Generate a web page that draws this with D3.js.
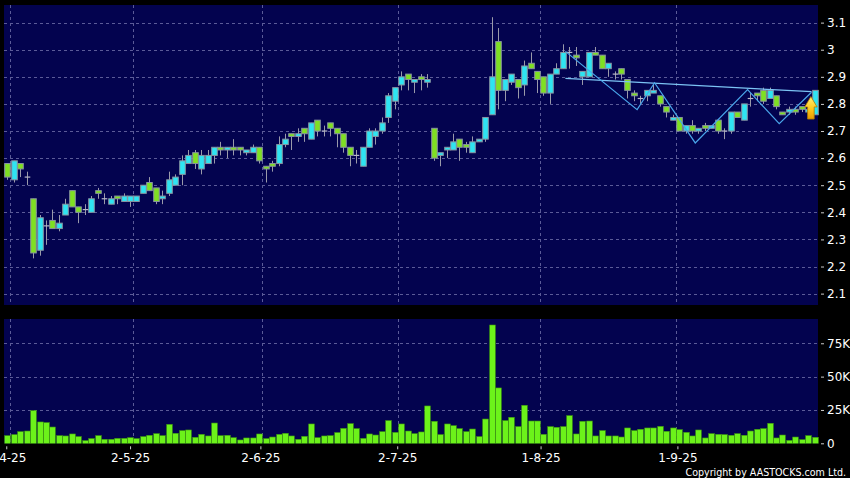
<!DOCTYPE html>
<html><head><meta charset="utf-8">
<script src="https://cdn.jsdelivr.net/npm/d3@7"></script>
<style>
html,body{margin:0;padding:0;background:#000;}
svg{display:block;}
</style></head><body>
<svg id="chart" width="850" height="478"></svg>
<script>
// ---- data (index 0 = 31-3-25 ... 125 = 30-9-25) ----
const openP  = [2.58,2.52,2.58,2.53,2.45,2.26,2.35,2.37,2.34,2.39,2.48,2.42,2.41,2.40,2.48,2.45,2.43,2.46,2.44,2.44,
2.44,2.47,2.51,2.49,2.45,2.47,2.50,2.54,2.58,2.62,2.56,2.58,2.61,2.64,2.63,2.64,2.64,2.62,2.62,2.64,
2.57,2.58,2.58,2.65,2.69,2.68,2.71,2.67,2.74,2.70,2.73,2.71,2.69,2.64,2.61,2.57,2.64,2.68,2.70,2.75,
2.81,2.87,2.91,2.88,2.90,2.88,2.71,2.61,2.63,2.63,2.67,2.65,2.62,2.66,2.67,2.76,3.03,2.85,2.88,2.89,
2.87,2.95,2.92,2.90,2.84,2.91,2.93,2.99,2.98,2.90,2.90,2.99,2.98,2.93,2.91,2.93,2.89,2.84,2.82,2.83,
2.84,2.83,2.79,2.74,2.75,2.70,2.72,2.70,2.72,2.71,2.74,2.70,2.70,2.77,2.74,2.82,2.84,2.85,2.82,2.83,
2.77,2.77,2.78,2.79,2.77,2.76];
const highP  = [2.58,2.59,2.58,2.55,2.45,2.39,2.37,2.41,2.39,2.45,2.48,2.42,2.43,2.46,2.49,2.47,2.46,2.46,2.47,2.46,
2.46,2.50,2.53,2.49,2.48,2.55,2.54,2.61,2.63,2.63,2.63,2.63,2.64,2.66,2.64,2.67,2.64,2.63,2.65,2.64,
2.57,2.59,2.68,2.69,2.69,2.71,2.71,2.73,2.74,2.72,2.73,2.71,2.69,2.64,2.63,2.64,2.71,2.71,2.75,2.84,
2.86,2.92,2.91,2.89,2.91,2.91,2.71,2.62,2.64,2.69,2.67,2.66,2.68,2.67,2.75,3.12,3.08,2.89,2.91,2.89,
2.96,2.99,2.92,2.90,2.91,2.95,3.02,3.01,3.01,2.92,2.99,3.01,2.98,2.95,2.92,2.93,2.89,2.85,2.83,2.85,
2.87,2.83,2.79,2.76,2.75,2.72,2.74,2.71,2.73,2.72,2.74,2.71,2.77,2.77,2.80,2.84,2.84,2.86,2.86,2.83,
2.77,2.79,2.79,2.79,2.79,2.85];
const lowP   = [2.52,2.51,2.53,2.50,2.23,2.24,2.28,2.34,2.33,2.39,2.42,2.36,2.39,2.40,2.45,2.43,2.43,2.43,2.44,2.42,
2.44,2.47,2.48,2.43,2.43,2.46,2.50,2.50,2.58,2.56,2.54,2.58,2.58,2.61,2.60,2.61,2.61,2.61,2.62,2.58,
2.51,2.55,2.57,2.64,2.63,2.66,2.66,2.67,2.68,2.68,2.68,2.64,2.62,2.57,2.58,2.57,2.64,2.65,2.69,2.73,
2.78,2.85,2.85,2.84,2.85,2.86,2.59,2.57,2.60,2.63,2.59,2.62,2.62,2.66,2.66,2.76,2.78,2.81,2.87,2.82,
2.83,2.93,2.84,2.83,2.80,2.91,2.93,2.93,2.94,2.87,2.90,2.98,2.93,2.90,2.89,2.89,2.82,2.81,2.80,2.81,
2.84,2.79,2.75,2.74,2.70,2.69,2.69,2.69,2.70,2.71,2.69,2.67,2.69,2.75,2.74,2.79,2.81,2.80,2.82,2.78,
2.76,2.76,2.76,2.77,2.76,2.76];
const closeP = [2.53,2.59,2.56,2.53,2.25,2.38,2.35,2.34,2.36,2.43,2.42,2.40,2.41,2.45,2.47,2.45,2.45,2.45,2.46,2.46,
2.46,2.50,2.48,2.44,2.46,2.52,2.53,2.59,2.61,2.58,2.61,2.61,2.64,2.63,2.64,2.63,2.63,2.63,2.64,2.59,
2.56,2.57,2.65,2.67,2.68,2.69,2.69,2.73,2.70,2.70,2.71,2.69,2.64,2.61,2.61,2.64,2.70,2.70,2.73,2.83,
2.86,2.90,2.89,2.89,2.89,2.89,2.60,2.62,2.64,2.66,2.64,2.64,2.66,2.67,2.75,2.90,2.85,2.89,2.91,2.86,
2.94,2.93,2.89,2.84,2.91,2.93,2.99,2.99,2.97,2.92,2.99,2.98,2.93,2.95,2.91,2.91,2.85,2.83,2.82,2.85,
2.85,2.80,2.77,2.75,2.70,2.72,2.70,2.71,2.71,2.72,2.70,2.70,2.77,2.75,2.80,2.82,2.83,2.81,2.85,2.79,
2.76,2.78,2.77,2.78,2.78,2.85];
const volumeK = [5.7,6.5,8.7,9.2,24.5,16,15.5,12.2,5.7,5.5,7,5,2,3.5,5.7,3,3,3.7,3.7,4.2,
3.5,5,6,7.2,5.7,14.2,7.5,9.5,10,4.5,6.7,5.5,15.2,5.7,6,4.2,2.5,4,4,7,
3.5,4.7,6.7,7.5,5.5,3,5.2,14.5,4.2,5.5,5.7,8,11.2,14.7,11,3.7,7,6.2,8.7,17,
8.2,14.5,9.2,7.2,8.5,28,16.5,6.5,14.5,13.2,11,8.7,10.7,5,18.2,88.7,41.5,17,19.5,12.5,
28.5,16.7,16.7,6.7,12.5,12,12.5,20.7,7,16.5,16.7,5.5,9.5,5.5,5.5,4.7,11.5,9.5,10.5,11.5,
11.5,12.7,9,11.5,10.2,8.2,5.5,10,4,7.2,6.7,6.5,6,7.2,6,9.2,10.5,11,15,4,
6.2,2.2,4.7,2.7,5.7,4.5];

const dateLabels = ["1-4-25","2-5-25","2-6-25","2-7-25","1-8-25","1-9-25"];
const dateIndex  = [1,20,40,61,83,104];
const priceTicks = [2.1,2.2,2.3,2.4,2.5,2.6,2.7,2.8,2.9,3,3.1];
const volTicks   = [0,25,50,75];

const zigIdx   = [86.4,97.5,100.2,106.5,114.6,119.5,124.5];
const zigPrice = [2.994,2.779,2.878,2.656,2.853,2.727,2.843];
const trendIdx   = [86.4,124.5];
const trendPrice = [2.894,2.845];
const arrowIdx = 124.4, arrowTop = 2.827, arrowBottom = 2.744;

// ---- layout ----
const W=850,H=478;
const plotL=4, plotR=818, priceTop=5, priceBot=305, volTop=319, volBot=443.3;
const n = openP.length;
const BG='#03034f', GRID='#5b5b98', CYAN='#2ee4f2', GREEN='#7fe022', EDGE='#8893a0', WICK='#9a9aaa';

const svg = d3.select('#chart');
svg.append('rect').attr('width',W).attr('height',H).attr('fill','#000');

const x = d3.scaleLinear().domain([-0.5,n-0.5]).range([plotL,plotR]);
const xTick = d3.scaleLinear().domain([0.5,n-0.5]).range([plotL-1,plotR-0.5]);
const y = d3.scaleLinear().domain([2.058,3.165]).range([priceBot,priceTop]);
const yV = d3.scaleLinear().domain([0,93.2]).range([volBot,volTop]);

// panels
svg.append('rect').attr('x',plotL).attr('y',priceTop).attr('width',plotR-plotL).attr('height',priceBot-priceTop).attr('fill',BG);
svg.append('rect').attr('x',plotL).attr('y',volTop).attr('width',plotR-plotL).attr('height',volBot-volTop).attr('fill',BG);

const grid = svg.append('g').attr('stroke',GRID).attr('stroke-width',1).attr('stroke-dasharray','3,3').attr('shape-rendering','crispEdges');
grid.selectAll('.hp').data(priceTicks).join('line')
  .attr('x1',plotL).attr('x2',plotR).attr('y1',d=>Math.round(y(d))+0.5).attr('y2',d=>Math.round(y(d))+0.5);
grid.selectAll('.hv').data(volTicks.slice(1)).join('line').attr('class','hv')
  .attr('x1',plotL).attr('x2',plotR).attr('y1',d=>Math.round(yV(d))+0.5).attr('y2',d=>Math.round(yV(d))+0.5);
dateIndex.forEach(i=>{
  const gx = Math.round(x(i-0.5))+0.5;
  grid.append('line').attr('x1',gx).attr('x2',gx).attr('y1',priceTop).attr('y2',priceBot);
  grid.append('line').attr('x1',gx).attr('x2',gx).attr('y1',volTop).attr('y2',volBot);
});

// candles
const idx = d3.range(n);
const bw = 5.6;
const cg = svg.append('g');
cg.selectAll('line.w').data(idx).join('line').attr('class','w')
  .attr('x1',i=>Math.round(x(i))+0.5).attr('x2',i=>Math.round(x(i))+0.5)
  .attr('y1',i=>y(highP[i])).attr('y2',i=>y(lowP[i]))
  .attr('stroke',WICK).attr('stroke-width',1);
cg.selectAll('rect.b').data(idx.filter(i=>openP[i]!==closeP[i])).join('rect').attr('class','b')
  .attr('x',i=>Math.round(x(i))+0.5-bw/2).attr('width',bw)
  .attr('y',i=>y(Math.max(openP[i],closeP[i])))
  .attr('height',i=>Math.max(1,Math.abs(y(openP[i])-y(closeP[i]))))
  .attr('fill',i=>closeP[i]>openP[i]?CYAN:GREEN)
  .attr('stroke',EDGE).attr('stroke-width',1);
cg.selectAll('line.d').data(idx.filter(i=>openP[i]===closeP[i])).join('line').attr('class','d')
  .attr('x1',i=>Math.round(x(i))+0.5-bw/2).attr('x2',i=>Math.round(x(i))+0.5+bw/2)
  .attr('y1',i=>y(openP[i])).attr('y2',i=>y(openP[i]))
  .attr('stroke','#b8b8c8').attr('stroke-width',1.2);

// annotation lines
const lineGen = d3.line().x(d=>x(d[0])).y(d=>y(d[1]));
svg.append('path').datum(trendIdx.map((d,k)=>[d,trendPrice[k]])).attr('d',lineGen)
  .attr('fill','none').attr('stroke','#7cc4f4').attr('stroke-width',1.2);
svg.append('path').datum(zigIdx.map((d,k)=>[d,zigPrice[k]])).attr('d',lineGen)
  .attr('fill','none').attr('stroke','#4aa6ea').attr('stroke-width',1.2);

// arrow
const defs = svg.append('defs');
const grad = defs.append('linearGradient').attr('id','ag').attr('x1',0).attr('y1',0).attr('x2',0).attr('y2',1);
grad.append('stop').attr('offset','0%').attr('stop-color','#fff07a');
grad.append('stop').attr('offset','55%').attr('stop-color','#ffc81a');
grad.append('stop').attr('offset','100%').attr('stop-color','#e89a00');
{
  const ax = x(arrowIdx), at = y(arrowTop), ab = y(arrowBottom);
  const hh = (ab-at)*0.46, hw = 6.2, sw = 3.3;
  const p = d3.path();
  p.moveTo(ax,at); p.lineTo(ax+hw,at+hh); p.lineTo(ax+sw,at+hh); p.lineTo(ax+sw,ab);
  p.lineTo(ax-sw,ab); p.lineTo(ax-sw,at+hh); p.lineTo(ax-hw,at+hh); p.closePath();
  svg.append('path').attr('d',p.toString()).attr('fill','url(#ag)').attr('stroke','#b07a00').attr('stroke-width',0.8);
}

// volume bars
svg.append('g').selectAll('rect').data(idx).join('rect')
  .attr('x',i=>Math.round(x(i))+0.5-2.8).attr('width',5.6)
  .attr('y',i=>yV(volumeK[i])).attr('height',i=>volBot-yV(volumeK[i]))
  .attr('fill','#6cf21a').attr('stroke','#3f9a10').attr('stroke-width',0.6);

// axes
const axFont = g=>g.call(s=>s.select('.domain').remove())
  .call(s=>s.selectAll('text').attr('fill','#fff').attr('font-family','DejaVu Sans, sans-serif').attr('font-size',12))
  .call(s=>s.selectAll('line').attr('stroke','#ccc'));
svg.append('g').attr('transform',`translate(${plotR+3},0)`)
  .call(d3.axisRight(y).tickValues(priceTicks).tickSize(3).tickPadding(3).tickFormat(d3.format('~g'))).call(axFont);
svg.append('g').attr('transform',`translate(${plotR+3},0)`)
  .call(d3.axisRight(yV).tickValues(volTicks).tickSize(3).tickPadding(3).tickFormat(d=>d===0?'0':d+'K')).call(axFont);
svg.append('g').attr('transform',`translate(0,${volBot+3})`)
  .call(d3.axisBottom(xTick).tickValues(dateIndex).tickSize(3).tickPadding(4).tickFormat((d,k)=>dateLabels[k])).call(axFont);

svg.append('text').attr('x',846).attr('y',475.5).attr('text-anchor','end')
  .attr('font-family','"DejaVu Sans Condensed","DejaVu Sans",sans-serif').attr('font-size',10.6)
  .attr('fill','#fff').text('Copyright by AASTOCKS.com Ltd.');
</script></body></html>
